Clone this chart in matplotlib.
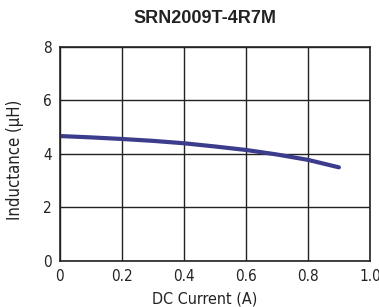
import matplotlib
matplotlib.use("Agg")
import matplotlib.pyplot as plt

current = [0.0, 0.1, 0.2, 0.3, 0.4, 0.5, 0.6, 0.7, 0.8, 0.9]
inductance = [4.67, 4.62, 4.56, 4.49, 4.40, 4.28, 4.15, 3.98, 3.78, 3.50]
xticks = [0, 0.2, 0.4, 0.6, 0.8, 1.0]
xticklabels = ["0", "0.2", "0.4", "0.6", "0.8", "1.0"]
yticks = [0, 2, 4, 6, 8]

plt.rcParams["font.family"] = ["DejaVu Sans"]
plt.rcParams["font.stretch"] = "condensed"

fig = plt.figure(figsize=(3.79, 3.07), dpi=100)
ax = fig.add_axes([0.158, 0.150, 0.818, 0.697])

ax.plot(current, inductance, color="#3c3c8c", lw=3.0, solid_capstyle="round")

ax.set_xlim(0, 1.0)
ax.set_ylim(0, 8)
ax.set_xticks(xticks)
ax.set_xticklabels(xticklabels)
ax.set_yticks(yticks)
ax.tick_params(length=0, labelsize=11, pad=6, colors="#222222")
ax.grid(True, color="#222222", lw=1.0)
for s in ax.spines.values():
    s.set_color("#222222")
    s.set_linewidth(1.2)

# axis labels placed by hand to match the reference layout
fig.text(0.541, 0.026, "DC Current (A)", ha="center", va="center",
         fontsize=11.5, color="#222222")
fig.text(0.040, 0.479, "Inductance (\u00b5H)", ha="center", va="center",
         rotation=90, fontsize=12, color="#222222")
fig.text(0.541, 0.941, "SRN2009T-4R7M", ha="center", va="center",
         fontsize=13, fontweight="bold", color="#222222",
         family=["Liberation Sans", "DejaVu Sans"], fontstretch="normal")

fig.savefig("out.png", dpi=100)
